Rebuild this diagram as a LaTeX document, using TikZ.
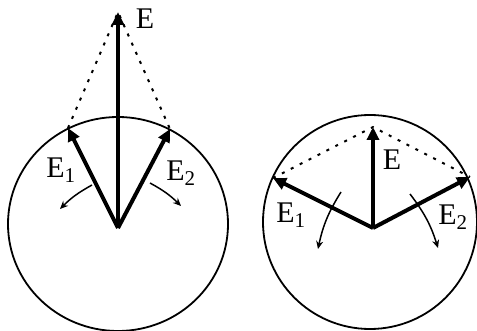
\documentclass[tikz,border=0pt]{standalone}
\usepackage{fontspec}
\setmainfont{Liberation Serif}
\usetikzlibrary{arrows.meta}

\begin{document}
\begin{tikzpicture}[x=1pt, y=-1pt,
    vec/.style={line width=4pt, -{Triangle[length=13pt,width=12pt]}},
    turn/.style={line width=1.5pt, -{Stealth[length=8pt,width=7pt]}},
    guide/.style={line width=2pt, dash pattern=on 3pt off 7pt},
    rim/.style={line width=1.8pt},
    lab/.style={font=\fontsize{30}{32}\selectfont, inner sep=0pt}
]
\useasboundingbox (0,0) rectangle (477,331);

% Left: E1 and E2 close together
\coordinate (O1) at (118,228);
\coordinate (A1) at (68,128);
\coordinate (B1) at (170,129);
\coordinate (S1) at (118,12);
\draw[rim] (118,224) ellipse [x radius=110pt, y radius=107pt];
\draw[guide] (A1) -- (S1) -- (B1);
\draw[vec] (O1) -- (S1);
\draw[vec] (O1) -- (A1);
\draw[vec] (O1) -- (B1);
\node[lab] (e) at (145,19) {E};
\node[lab] (e1) at (61,170) {E\textsubscript{1}};
\node[lab] (e2) at (181,173) {E\textsubscript{2}};
\coordinate (p1) at (92,185);
\coordinate (q1) at (60,209);
\coordinate (p2) at (150,183);
\coordinate (q2) at (181,206);
\draw[turn] (p1) to[bend right=8] (q1);
\draw[turn] (p2) to[bend left=8] (q2);

% Right: E1 and E2 spread apart
\coordinate (O2) at (373,228);
\coordinate (A2) at (273,178);
\coordinate (B2) at (470,177);
\coordinate (S2) at (373,127);
\draw[rim] (370,222) circle [radius=107pt];
\draw[guide] (A2) -- (S2) -- (B2);
\draw[vec] (O2) -- (S2);
\draw[vec] (O2) -- (A2);
\draw[vec] (O2) -- (B2);
\node[lab] (f) at (392,160) {E};
\node[lab] (f1) at (291,215) {E\textsubscript{1}};
\node[lab] (f2) at (453,217) {E\textsubscript{2}};
\coordinate (p3) at (341,192);
\coordinate (q3) at (318,249);
\coordinate (p4) at (410,194);
\coordinate (q4) at (438,248);
\draw[turn] (p3) to[bend right=10] (q3);
\draw[turn] (p4) to[bend left=10] (q4);
\end{tikzpicture}
\end{document}
